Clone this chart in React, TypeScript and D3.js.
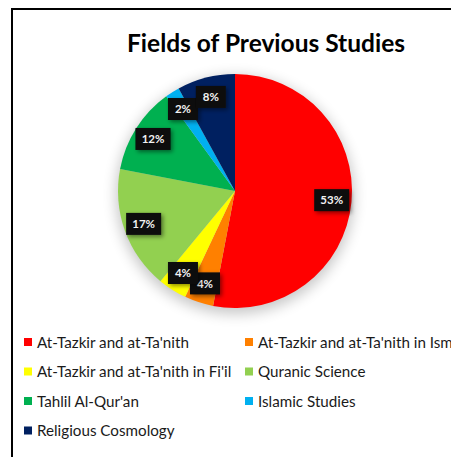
import React from "react";
import * as d3 from "d3";

const categories = [
  "At-Tazkir and at-Ta'nith",
  "At-Tazkir and at-Ta'nith in Ism",
  "At-Tazkir and at-Ta'nith in Fi'il",
  "Quranic Science",
  "Tahlil Al-Qur'an",
  "Islamic Studies",
  "Religious Cosmology",
];
const values = [53, 4, 4, 17, 12, 2, 8];
const colors = ["#FF0000", "#FF8000", "#FFFF00", "#92D050", "#00B050", "#00B0F0", "#002060"];
const title = "Fields of Previous Studies";

export default function App() {
  const W = 451, H = 457;
  const cx = 235, cy = 191, R = 117;
  const data = categories.map((c, i) => ({ c, v: values[i], col: colors[i] }));
  const pie = d3.pie<any>().value((d) => d.v).sort(null);
  const arcs = pie(data);
  const arc = d3.arc<any>().innerRadius(0).outerRadius(R);
  const labelArc = d3.arc<any>().innerRadius(R * 0.83).outerRadius(R * 0.83);
  const font = "Lato, 'Open Sans', sans-serif";
  return (
    <svg width={W} height={H} style={{ position: "absolute", left: 0, top: 0, background: "#fff" }}>
      <defs>
        <filter id="pieShadow" x="-30%" y="-30%" width="160%" height="160%">
          <feGaussianBlur stdDeviation="7" />
        </filter>
        <filter id="lblShadow" x="-30%" y="-30%" width="170%" height="180%">
          <feDropShadow dx="2" dy="2" stdDeviation="2" floodColor="#000" floodOpacity="0.45" />
        </filter>
      </defs>
      <rect x={12} y={9} width={W + 20} height={H + 20} fill="#fff" stroke="#000" strokeWidth={2} />
      <text x={266} y={52} textAnchor="middle" fontFamily={font} fontWeight={700} fontSize={24.5} fill="#000">
        {title}
      </text>
      <circle cx={cx} cy={cy + 4} r={R + 2} fill="#000" opacity={0.22} filter="url(#pieShadow)" />
      <g transform={`translate(${cx},${cy})`}>
        {arcs.map((a, i) => (
          <path key={i} d={arc(a) as string} fill={a.data.col} />
        ))}
        {arcs.map((a, i) => {
          const [x, y] = labelArc.centroid(a);
          const txt = `${a.data.v}%`;
          const w = txt.length > 2 ? 35 : 30;
          return (
            <g key={"l" + i} transform={`translate(${x},${y})`}>
              <rect x={-w / 2} y={-11} width={w} height={22} fill="#0d0d0d" filter="url(#lblShadow)" />
              <text x={0} y={4.2} textAnchor="middle" fontFamily={font} fontWeight={700} fontSize={11.5} fill="#f2f2f2">
                {txt}
              </text>
            </g>
          );
        })}
      </g>
      <g>
        {data.map((d, i) => {
          const col = i % 2;
          const row = Math.floor(i / 2);
          const x = col === 0 ? 24 : 245;
          const y = 342 + row * 29.5;
          return (
            <g key={"lg" + i} transform={`translate(${x},${y})`}>
              <rect x={0} y={-4} width={8} height={8} fill={d.col} />
              <text x={13} y={5.5} fontFamily={font} fontSize={15.2} fill="#1a1a1a">
                {d.c}
              </text>
            </g>
          );
        })}
      </g>
    </svg>
  );
}
